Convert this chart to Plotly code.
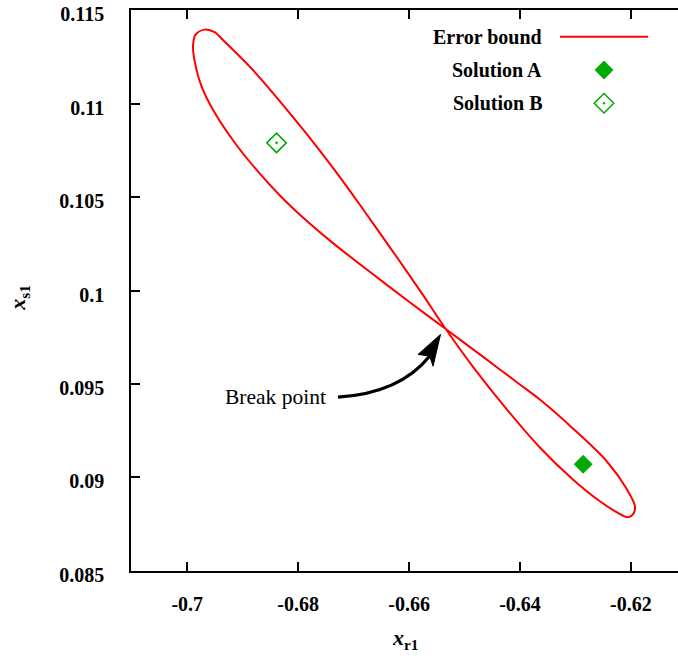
import plotly.graph_objects as go

# Error bound curve (figure-eight through the break point)
bound_x = [-0.65338, -0.65987, -0.66709, -0.67377, -0.67847, -0.68334, -0.68749, -0.69146,
           -0.69507, -0.69742, -0.69868, -0.69895, -0.69850, -0.69688, -0.69507, -0.69327,
           -0.68839, -0.68370, -0.67883, -0.67558, -0.67251, -0.66890, -0.66222, -0.65753,
           -0.65338, -0.64850, -0.64237, -0.63641, -0.63045, -0.62558, -0.62251, -0.62053,
           -0.61962, -0.61926, -0.62071, -0.62432, -0.63045, -0.63641, -0.64002, -0.64724,
           -0.65338]
bound_y = [0.09794, 0.09937, 0.10100, 0.10255, 0.10373, 0.10510, 0.10645, 0.10792,
           0.10952, 0.11092, 0.11230, 0.11310, 0.11369, 0.11396, 0.11382, 0.11332,
           0.11187, 0.11027, 0.10851, 0.10728, 0.10608, 0.10460, 0.10179, 0.09978,
           0.09794, 0.09593, 0.09364, 0.09160, 0.08989, 0.08872, 0.08813, 0.08786,
           0.08802, 0.08845, 0.08936, 0.09085, 0.09262, 0.09417, 0.09497, 0.09658,
           0.09794]

sol_a = (-0.6286, 0.0907)
sol_b = (-0.6839, 0.1079)

x_ticks = [-0.70, -0.68, -0.66, -0.64, -0.62]
x_tick_text = ["-0.7", "-0.68", "-0.66", "-0.64", "-0.62"]
y_ticks = [0.085, 0.09, 0.095, 0.10, 0.105, 0.11, 0.115]
y_tick_text = ["0.085", "0.09", "0.095", "0.1", "0.105", "0.11", "0.115"]

series_names = ["Error bound", "Solution A", "Solution B"]
RED = "#ff0000"
GREEN = "#00aa00"
SERIF = "Liberation Serif, Times New Roman, Times, DejaVu Serif, serif"

fig = go.Figure()
fig.add_trace(go.Scatter(x=bound_x, y=bound_y, mode="lines",
                         line=dict(color=RED, width=2, shape="spline", smoothing=0.9),
                         name=series_names[0], showlegend=False))
fig.add_trace(go.Scatter(x=[sol_a[0]], y=[sol_a[1]], mode="markers",
                         marker=dict(symbol="diamond", size=14.5, color=GREEN,
                                     line=dict(width=0)),
                         name=series_names[1], showlegend=False))
fig.add_trace(go.Scatter(x=[sol_b[0]], y=[sol_b[1]], mode="markers",
                         marker=dict(symbol="diamond-open-dot", size=15, color=GREEN,
                                     line=dict(width=1.5, color=GREEN)),
                         name=series_names[2], showlegend=False))

# custom gnuplot-style key (text right-aligned, sample to the right)
key_y = [0.9524, 0.893, 0.8337]
fig.add_trace(go.Scatter(x=[0.8647], y=[key_y[1]], mode="markers", xaxis="x2", yaxis="y2",
                         marker=dict(symbol="diamond", size=14.5, color=GREEN, line=dict(width=0)),
                         showlegend=False, hoverinfo="skip"))
fig.add_trace(go.Scatter(x=[0.8647], y=[key_y[2]], mode="markers", xaxis="x2", yaxis="y2",
                         marker=dict(symbol="diamond-open-dot", size=15, color=GREEN,
                                     line=dict(width=1.5, color=GREEN)),
                         showlegend=False, hoverinfo="skip"))

annotations = []
for name, ky in zip(series_names, key_y):
    annotations.append(dict(text="<b>%s</b>" % name, xref="paper", yref="paper", x=0.7555, y=ky,
                            xanchor="right", yanchor="middle", showarrow=False,
                            font=dict(family=SERIF, size=20, color="black")))
annotations.append(dict(text="Break point", xref="x", yref="y", x=-0.6747, y=0.09429,
                        xanchor="right", yanchor="middle", showarrow=False,
                        font=dict(family=SERIF, size=21.5, color="black")))
annotations.append(dict(text="<b><i>x</i><sub>r1</sub></b>", xref="paper", yref="paper",
                        x=0.5010, y=-0.121, xanchor="center", yanchor="middle",
                        showarrow=False,
                        font=dict(family=SERIF, size=22, color="black")))
annotations.append(dict(text="<b><i>x</i><sub>s1</sub></b>", xref="paper", yref="paper",
                        x=-0.204, y=0.488, xanchor="center", yanchor="middle",
                        textangle=-90, showarrow=False,
                        font=dict(family=SERIF, size=22, color="black")))

shapes = [
    dict(type="line", xref="paper", yref="paper", x0=0.7843, x1=0.9452, y0=key_y[0], y1=key_y[0],
         line=dict(color=RED, width=2)),
    dict(type="path", xref="x", yref="y",
         path="M -0.67282,0.09429 Q -0.66168,0.09449 -0.65627,0.09649",
         line=dict(color="black", width=3.2)),
    dict(type="path", xref="x", yref="y",
         path="M -0.65433,0.09765 L -0.65838,0.09658 L -0.65627,0.09649 L -0.65567,0.09595 Z",
         fillcolor="black", line=dict(color="black", width=1)),
]

axis_common = dict(showline=True, linecolor="black", linewidth=1.6, ticks="inside",
                   ticklen=9, tickwidth=1.6, tickcolor="black", showgrid=False, zeroline=False,
                   automargin=False, ticklabeloverflow="allow",
                   tickfont=dict(family=SERIF, size=20, color="black", weight="bold"))

fig.update_layout(
    width=678, height=659,
    margin=dict(l=131, r=0, t=10, b=88),
    paper_bgcolor="white", plot_bgcolor="white",
    showlegend=False,
    xaxis=dict(range=[-0.71014, -0.6115], tickvals=x_ticks, ticktext=x_tick_text,
               mirror="ticks", ticklabelstandoff=14, **axis_common),
    yaxis=dict(range=[0.08499, 0.11501], tickvals=y_ticks, ticktext=y_tick_text,
               mirror=False, ticklabelstandoff=21, ticklabelshift=4, **axis_common),
    xaxis2=dict(overlaying="x", range=[0, 1], visible=False),
    yaxis2=dict(overlaying="y", range=[0, 1], visible=False),
    annotations=annotations,
    shapes=shapes,
)

fig.write_html("out.html", config={"displayModeBar": False},
               post_script="document.body.style.margin='0';document.body.style.overflow='hidden';")
